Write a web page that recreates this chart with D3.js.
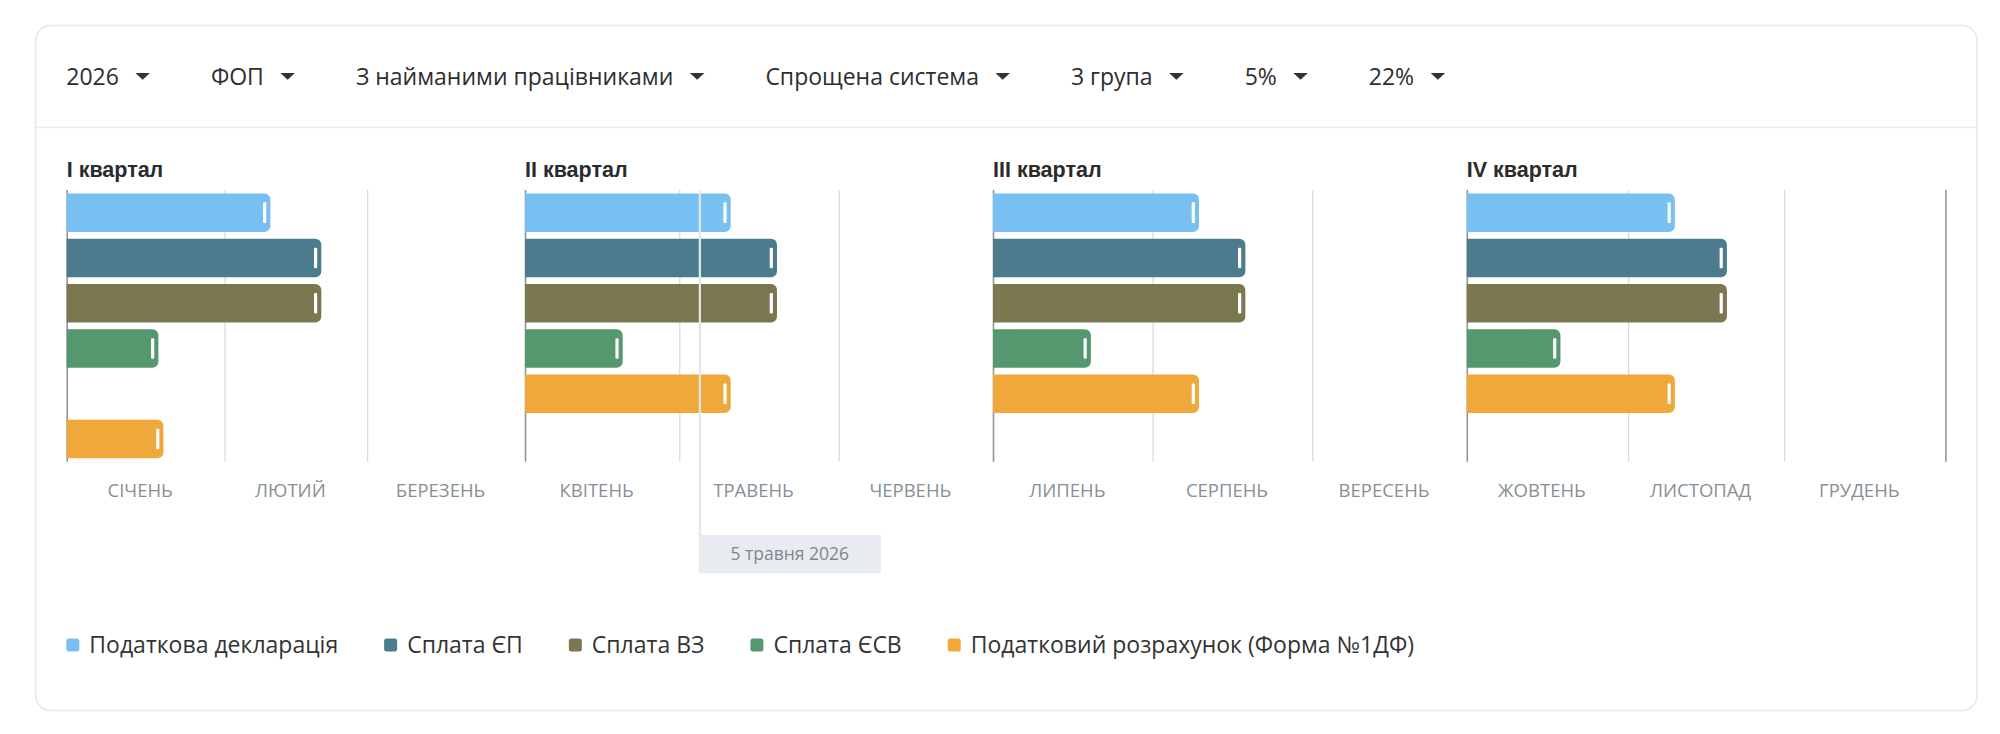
<!DOCTYPE html>
<html>
<head>
<meta charset="utf-8">
<script src="https://cdn.jsdelivr.net/npm/d3@7"></script>
<style>
  html, body { margin: 0; padding: 0; background: #ffffff; }
  svg { display: block; }
</style>
</head>
<body>
<svg id="chart" width="2000" height="734"></svg>
<script>
// ---------------- DATA ----------------
const filterLabels = ["2026", "ФОП", "З найманими працівниками", "Спрощена система", "3 група", "5%", "22%"];
const quarterTitles = ["I квартал", "II квартал", "III квартал", "IV квартал"];
const quarterStarts = ["2026-01-01", "2026-04-01", "2026-07-01", "2026-10-01", "2027-01-01"];
const monthNames = ["СІЧЕНЬ", "ЛЮТИЙ", "БЕРЕЗЕНЬ", "КВІТЕНЬ", "ТРАВЕНЬ", "ЧЕРВЕНЬ",
                    "ЛИПЕНЬ", "СЕРПЕНЬ", "ВЕРЕСЕНЬ", "ЖОВТЕНЬ", "ЛИСТОПАД", "ГРУДЕНЬ"];
const seriesNames = ["Податкова декларація", "Сплата ЄП", "Сплата ВЗ", "Сплата ЄСВ",
                     "Податковий розрахунок (Форма №1ДФ)"];
const seriesColors = ["#78c0f2", "#4b7b8c", "#7b7851", "#55976f", "#f0a83a"];
// deadlines (end of each bar), one per quarter
const declarationDue = ["2026-02-10", "2026-05-11", "2026-08-10", "2026-11-10"];
const epDue          = ["2026-02-20", "2026-05-20", "2026-08-19", "2026-11-20"];
const vzDue          = ["2026-02-20", "2026-05-20", "2026-08-19", "2026-11-20"];
const esvDue         = ["2026-01-19", "2026-04-20", "2026-07-20", "2026-10-19"];
const ndfDue         = [null,         "2026-05-11", "2026-08-10", "2026-11-10"];
const ndfPrevDue     = ["2026-01-20", null,         null,         null];
// row -> series index (row 6 is the previous-period 1ДФ report)
const rowSeries = [0, 1, 2, 3, 4, 4];
const rowDue = [declarationDue, epDue, vzDue, esvDue, ndfDue, ndfPrevDue];
const todayDate = "2026-05-05";
const todayLabel = "5 травня 2026";

// ---------------- LAYOUT ----------------
const parse = d3.timeParse("%Y-%m-%d");
const qStartDates = quarterStarts.map(parse);
const quarterEdgesPx = [66.7, 525, 993, 1466.8, 1945.4];
const plotTop = 190, plotBottom = 461.7;
const sansFont = "'Open Sans', 'Noto Sans', sans-serif";
const boldFont = "'Liberation Sans', Arial, Helvetica, sans-serif";

const svg = d3.select("#chart");

// card
svg.append("rect")
  .attr("x", 35.7).attr("y", 25.5).attr("width", 1941.3).attr("height", 685)
  .attr("rx", 15).attr("fill", "#fff").attr("stroke", "#e5e7ee").attr("stroke-width", 1.5);
svg.append("line")
  .attr("x1", 36.5).attr("x2", 1976.3).attr("y1", 127.5).attr("y2", 127.5)
  .attr("stroke", "#ececf3").attr("stroke-width", 1.5);

// header filters
const header = svg.append("g").attr("class", "header");
let hx = 66.3;
filterLabels.forEach(lbl => {
  const t = header.append("text")
    .attr("x", hx).attr("y", 85)
    .attr("font-family", sansFont).attr("font-size", 23)
    .attr("fill", "#2e2e2e").text(lbl);
  const w = t.node().getComputedTextLength();
  const tx = hx + w + 16.5;
  header.append("path")
    .attr("d", `M${tx},73 L${tx + 14.5},73 L${tx + 7.25},79.8 Z`)
    .attr("fill", "#333");
  hx = tx + 14.5 + 61;
});

// scales
const x = d3.scaleTime().domain(qStartDates).range(quarterEdgesPx);
const y = d3.scaleBand().domain(d3.range(rowSeries.length))
  .range([plotTop, plotBottom]).paddingInner(0.15).paddingOuter(0.075);

// month grid via axis
const monthStarts = d3.timeMonth.range(qStartDates[0], qStartDates[4]);
const gridTicks = monthStarts.concat([qStartDates[4]]);
const isQuarterEdge = d => qStartDates.some(q => +q === +d);
const gridG = svg.append("g")
  .attr("transform", `translate(0,${plotBottom})`)
  .call(d3.axisBottom(x).tickValues(gridTicks).tickSize(-(plotBottom - plotTop)).tickFormat(""));
gridG.select(".domain").remove();
gridG.selectAll(".tick line")
  .attr("stroke", d => isQuarterEdge(d) ? "#8f959a" : "#d8dbdf")
  .attr("stroke-width", d => isQuarterEdge(d) ? 1.6 : 1.3);

// month labels via axis
const monthMids = monthStarts.map(m => new Date((+m + +d3.timeMonth.offset(m, 1)) / 2));
const labG = svg.append("g")
  .attr("transform", `translate(0,${plotBottom})`)
  .call(d3.axisBottom(x).tickValues(monthMids).tickSize(0)
    .tickFormat((d, i) => monthNames[i]));
labG.select(".domain").remove();
labG.selectAll(".tick text")
  .attr("y", 35).attr("dy", 0).attr("dx", -6)
  .attr("font-family", sansFont).attr("font-size", 18.5)
  .attr("fill", "#878f95");

// quarter titles
svg.append("g").selectAll("text").data(quarterTitles).join("text")
  .attr("x", (d, i) => x(qStartDates[i]))
  .attr("y", 177.3)
  .attr("font-family", boldFont).attr("font-weight", "bold").attr("font-size", 21.5)
  .attr("fill", "#2b2b2b").text(d => d);

// bars
const bars = [];
rowDue.forEach((arr, r) => {
  arr.forEach((d, q) => {
    if (d) bars.push({ row: r, q: q, due: parse(d), color: seriesColors[rowSeries[r]] });
  });
});
const rad = 6;
function barPath(d) {
  const x0 = x(qStartDates[d.q]), x1 = x(d.due);
  const y0 = y(d.row), h = y.bandwidth();
  return `M${x0},${y0} H${x1 - rad} A${rad},${rad} 0 0 1 ${x1},${y0 + rad}
          V${y0 + h - rad} A${rad},${rad} 0 0 1 ${x1 - rad},${y0 + h} H${x0} Z`;
}
const barG = svg.append("g");
barG.selectAll("path").data(bars).join("path")
  .attr("d", barPath).attr("fill", d => d.color);
barG.selectAll("rect").data(bars).join("rect")
  .attr("x", d => x(d.due) - 7.3)
  .attr("y", d => y(d.row) + y.bandwidth() / 2 - 10.3)
  .attr("width", 3.2).attr("height", 20.6).attr("rx", 1)
  .attr("fill", "#ffffff");

// today marker
const tx = x(parse(todayDate));
svg.append("line")
  .attr("x1", tx).attr("x2", tx).attr("y1", plotTop).attr("y2", 535)
  .attr("stroke", "#e2e7ec").attr("stroke-width", 2.2);
svg.append("rect")
  .attr("x", tx - 1.1).attr("y", 535).attr("width", 182).attr("height", 38.3)
  .attr("fill", "#e8ecf0");
svg.append("text")
  .attr("x", tx - 1.1 + 91).attr("y", 560)
  .attr("text-anchor", "middle")
  .attr("font-family", sansFont).attr("font-size", 17.5)
  .attr("fill", "#7f878e").text(todayLabel);

// legend
const legend = svg.append("g");
let lx = 66.3;
seriesNames.forEach((name, i) => {
  legend.append("rect")
    .attr("x", lx).attr("y", 638.5).attr("width", 13).attr("height", 13).attr("rx", 2.5)
    .attr("fill", seriesColors[i]);
  const t = legend.append("text")
    .attr("x", lx + 23).attr("y", 653)
    .attr("font-family", sansFont).attr("font-size", 23)
    .attr("fill", "#333").text(name);
  lx = lx + 23 + t.node().getComputedTextLength() + 46;
});
</script>
</body>
</html>
